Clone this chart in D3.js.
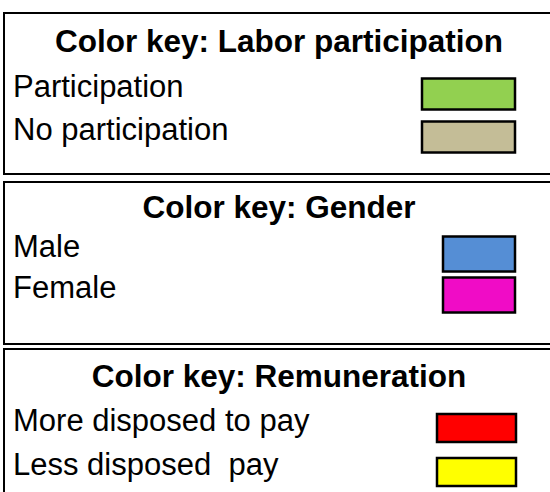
<!DOCTYPE html>
<html><head><meta charset="utf-8">
<script src="https://cdn.jsdelivr.net/npm/d3@7"></script>
<style>body{margin:0;background:#fff}svg{display:block}text{font-family:"Liberation Sans",Arial,sans-serif;white-space:pre}</style>
</head><body>
<script>
// Data
const keyTitles = ["Color key: Labor participation", "Color key: Gender", "Color key: Remuneration"];
const laborLabels = ["Participation", "No participation"];
const laborColors = ["#92d050", "#c4bd97"];
const genderLabels = ["Male", "Female"];
const genderColors = ["#558ed5", "#f00cc6"];
const payLabels = ["More disposed to pay", "Less disposed  pay"];
const payColors = ["#ff0000", "#ffff00"];

const W = 550, H = 492;
const svg = d3.select("body").append("svg").attr("width", W).attr("height", H);

const panels = [
  {title: keyTitles[0], labels: laborLabels, colors: laborColors, top: 13, bottom: 174, titleY: 52, rows: [97, 140], sw: [422, 93, 31]},
  {title: keyTitles[1], labels: genderLabels, colors: genderColors, top: 182, bottom: 344, titleY: 218, rows: [257, 298], sw: [443, 72, 35]},
  {title: keyTitles[2], labels: payLabels, colors: payColors, top: 349, bottom: 520, titleY: 387, rows: [431, 475], sw: [437, 79, 28]}
];

panels.forEach(p => {
  const g = svg.append("g");
  g.append("rect").attr("x", 4).attr("y", p.top).attr("width", 600).attr("height", p.bottom - p.top)
    .attr("fill", "none").attr("stroke", "#000").attr("stroke-width", 2);
  g.append("text").attr("x", 279).attr("y", p.titleY).attr("text-anchor", "middle")
    .attr("font-size", 31.5).attr("font-weight", "bold").text(p.title);
  const y = d3.scalePoint().domain(p.labels).range(p.rows);
  const color = d3.scaleOrdinal().domain(p.labels).range(p.colors);
  g.selectAll("text.lab").data(p.labels).join("text").attr("class", "lab")
    .attr("x", 13).attr("y", d => y(d)).attr("font-size", 31).text(d => d);
  g.selectAll("rect.sw").data(p.labels).join("rect").attr("class", "sw")
    .attr("x", p.sw[0]).attr("y", d => y(d) - 3 - p.sw[2] / 2)
    .attr("width", p.sw[1]).attr("height", p.sw[2])
    .attr("fill", d => color(d)).attr("stroke", "#000").attr("stroke-width", 2.5);
});
</script>
</body></html>
